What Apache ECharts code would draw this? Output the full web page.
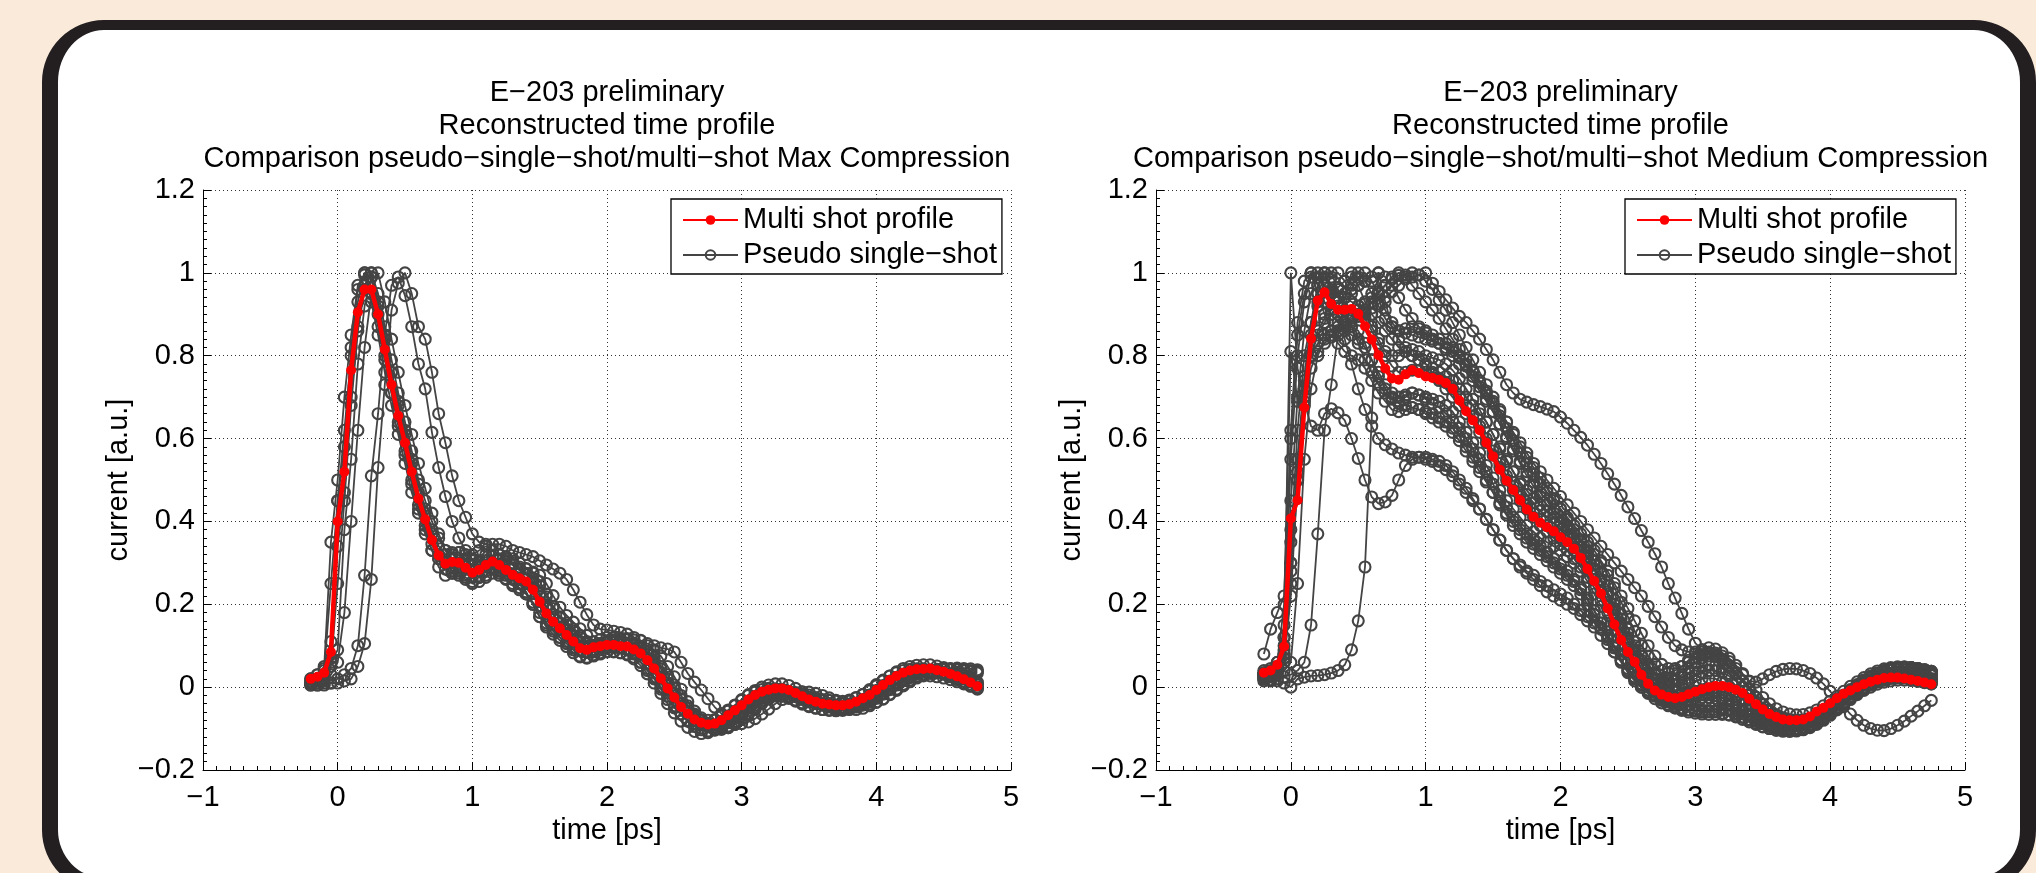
<!DOCTYPE html>
<html><head><meta charset="utf-8">
<script src="https://cdn.jsdelivr.net/npm/echarts/dist/echarts.min.js"></script>
<style>
html,body{margin:0;padding:0;background:#f9eada;width:2036px;height:873px;overflow:hidden;}
#panel{position:absolute;left:42px;top:20px;width:1994px;height:872px;box-sizing:border-box;background:#fff;border-style:solid;border-color:#231f20;border-width:10px 16px 14px 16px;border-radius:62px;}
#c{position:absolute;left:0;top:0;width:2036px;height:873px;}
</style>
</head><body><div id="panel"></div><div id="c"></div>
<script>
// ---------- DATA ----------
const time = [-0.20,-0.15,-0.10,-0.05,0.00,0.05,0.10,0.15,0.20,0.25,0.30,0.35,0.40,0.45,0.50,0.55,0.60,0.65,0.70,0.75,0.80,0.85,0.90,0.95,1.00,1.05,1.10,1.15,1.20,1.25,1.30,1.35,1.40,1.45,1.50,1.55,1.60,1.65,1.70,1.75,1.80,1.85,1.90,1.95,2.00,2.05,2.10,2.15,2.20,2.25,2.30,2.35,2.40,2.45,2.50,2.55,2.60,2.65,2.70,2.75,2.80,2.85,2.90,2.95,3.00,3.05,3.10,3.15,3.20,3.25,3.30,3.35,3.40,3.45,3.50,3.55,3.60,3.65,3.70,3.75,3.80,3.85,3.90,3.95,4.00,4.05,4.10,4.15,4.20,4.25,4.30,4.35,4.40,4.45,4.50,4.55,4.60,4.65,4.70,4.75];
const xTicks = [-1,0,1,2,3,4,5];
const yTicks = [-0.2,0,0.2,0.4,0.6,0.8,1,1.2];
const titlesMax = ['E\u2212203 preliminary','Reconstructed time profile','Comparison pseudo\u2212single\u2212shot/multi\u2212shot Max Compression'];
const titlesMed = ['E\u2212203 preliminary','Reconstructed time profile','Comparison pseudo\u2212single\u2212shot/multi\u2212shot Medium Compression'];
const nameMulti = 'Multi shot profile';
const nameSingle = 'Pseudo single\u2212shot';

// Max compression (left)
const multiMax = [0.020,0.025,0.035,0.085,0.400,0.520,0.765,0.905,0.960,0.960,
0.900,0.815,0.730,0.655,0.590,0.520,0.455,0.405,0.355,0.318,
0.298,0.302,0.300,0.288,0.276,0.283,0.295,0.303,0.295,0.283,
0.271,0.263,0.255,0.235,0.206,0.178,0.158,0.142,0.126,0.110,
0.094,0.090,0.096,0.099,0.102,0.102,0.099,0.098,0.091,0.081,
0.065,0.045,0.021,-0.003,-0.025,-0.048,-0.064,-0.078,-0.086,-0.090,
-0.088,-0.080,-0.068,-0.056,-0.044,-0.030,-0.019,-0.011,-0.006,-0.003,
-0.003,-0.007,-0.014,-0.022,-0.030,-0.035,-0.040,-0.042,-0.044,-0.044,
-0.041,-0.035,-0.027,-0.019,-0.007,0.005,0.017,0.027,0.035,0.040,
0.043,0.044,0.045,0.041,0.037,0.032,0.026,0.019,0.011,0.002];
const maxShot1 = [0.02,0.03,0.05,0.35,0.50,0.70,0.85,0.97,0.995,0.93,
0.85,0.76,0.68,0.61,0.54,0.47,0.42,0.37,0.33,0.31,
0.30,0.29,0.28,0.27,0.28,0.29,0.30,0.29,0.28,0.27,
0.26,0.25,0.23,0.20,0.17,0.15,0.14,0.12,0.11,0.095,
0.09,0.095,0.10,0.10,0.10,0.10,0.095,0.09,0.08,0.06,
0.04,0.02,-0.005,-0.03,-0.05,-0.065,-0.08,-0.088,-0.09,-0.087,
-0.08,-0.068,-0.055,-0.043,-0.03,-0.02,-0.012,-0.006,-0.003,-0.004,
-0.008,-0.015,-0.023,-0.03,-0.036,-0.04,-0.043,-0.044,-0.043,-0.04,
-0.034,-0.026,-0.018,-0.006,0.006,0.017,0.027,0.035,0.04,0.043,
0.044,0.044,0.04,0.036,0.031,0.025,0.018,0.01,0.002,-0.005];
const maxShot2 = [0.01,0.02,0.03,0.06,0.09,0.38,0.55,0.78,0.92,0.99,
0.93,0.85,0.76,0.68,0.61,0.54,0.47,0.42,0.37,0.32,
0.30,0.28,0.29,0.29,0.28,0.265,0.27,0.285,0.29,0.28,
0.27,0.26,0.25,0.24,0.22,0.19,0.165,0.145,0.13,0.115,
0.10,0.085,0.085,0.09,0.095,0.095,0.095,0.09,0.09,0.08,
0.07,0.055,0.035,0.01,-0.015,-0.04,-0.06,-0.075,-0.088,-0.095,
-0.098,-0.094,-0.085,-0.073,-0.06,-0.048,-0.035,-0.025,-0.017,-0.012,
-0.01,-0.012,-0.017,-0.024,-0.032,-0.038,-0.043,-0.046,-0.048,-0.048,
-0.046,-0.042,-0.035,-0.027,-0.016,-0.004,0.007,0.017,0.025,0.031,
0.035,0.037,0.038,0.037,0.034,0.03,0.026,0.02,0.013,0.005];
const maxShot3 = [0.01,0.015,0.02,0.05,0.25,0.45,0.68,0.86,0.96,1.0,
0.95,0.87,0.79,0.71,0.64,0.57,0.50,0.45,0.40,0.36,
0.33,0.32,0.325,0.32,0.31,0.30,0.305,0.315,0.32,0.31,
0.30,0.29,0.285,0.275,0.255,0.225,0.195,0.17,0.155,0.14,
0.125,0.11,0.10,0.105,0.11,0.11,0.11,0.105,0.10,0.095,
0.085,0.07,0.05,0.03,0.005,-0.02,-0.045,-0.065,-0.08,-0.092,
-0.1,-0.1,-0.094,-0.083,-0.07,-0.057,-0.044,-0.032,-0.022,-0.015,
-0.012,-0.012,-0.015,-0.021,-0.028,-0.035,-0.041,-0.046,-0.049,-0.051,
-0.048,-0.045,-0.04,-0.033,-0.025,-0.015,-0.004,0.007,0.017,0.026,
0.033,0.038,0.041,0.043,0.044,0.044,0.043,0.041,0.04,0.038];
const maxShot4 = [0.01,0.015,0.025,0.07,0.34,0.47,0.70,0.87,0.97,1.0,
0.90,0.80,0.71,0.63,0.56,0.49,0.43,0.38,0.33,0.29,
0.27,0.275,0.275,0.265,0.25,0.255,0.265,0.275,0.27,0.26,
0.245,0.235,0.225,0.205,0.18,0.155,0.135,0.12,0.105,0.09,
0.075,0.07,0.075,0.08,0.085,0.085,0.083,0.08,0.072,0.06,
0.045,0.025,0.0,-0.022,-0.045,-0.065,-0.082,-0.095,-0.103,-0.106,
-0.104,-0.097,-0.086,-0.073,-0.06,-0.046,-0.035,-0.027,-0.022,-0.02,
-0.021,-0.025,-0.031,-0.038,-0.045,-0.05,-0.054,-0.056,-0.057,-0.056,
-0.053,-0.047,-0.04,-0.031,-0.02,-0.009,0.002,0.011,0.018,0.023,
0.026,0.027,0.027,0.025,0.022,0.018,0.013,0.008,0.003,-0.002];
const maxShot5 = [0.02,0.03,0.045,0.11,0.45,0.58,0.82,0.96,1.0,0.99,
0.92,0.84,0.76,0.69,0.62,0.55,0.49,0.43,0.38,0.34,
0.32,0.325,0.325,0.31,0.295,0.305,0.32,0.33,0.32,0.305,
0.295,0.285,0.275,0.255,0.225,0.195,0.175,0.155,0.14,0.125,
0.11,0.105,0.11,0.115,0.12,0.12,0.115,0.115,0.105,0.095,
0.08,0.06,0.035,0.01,-0.015,-0.04,-0.057,-0.07,-0.078,-0.08,
-0.078,-0.07,-0.058,-0.045,-0.032,-0.018,-0.008,0.0,0.005,0.008,
0.008,0.004,-0.003,-0.011,-0.019,-0.025,-0.03,-0.032,-0.034,-0.034,
-0.031,-0.025,-0.017,-0.009,0.003,0.015,0.027,0.037,0.045,0.05,
0.053,0.054,0.054,0.051,0.047,0.042,0.036,0.029,0.021,0.012];
const maxShot6 = [0.005,0.005,0.01,0.01,0.02,0.03,0.045,0.10,0.27,0.51,
0.66,0.85,0.97,0.99,0.945,0.87,0.78,0.72,0.615,0.53,
0.46,0.40,0.36,0.33,0.32,0.33,0.34,0.33,0.32,0.315,
0.31,0.30,0.286,0.278,0.27,0.25,0.221,0.193,0.173,0.157,
0.141,0.125,0.109,0.105,0.111,0.114,0.117,0.117,0.114,0.113,
0.10,0.09,0.075,0.05,0.025,-0.005,-0.035,-0.058,-0.074,-0.088,
-0.096,-0.10,-0.098,-0.09,-0.078,-0.066,-0.054,-0.04,-0.029,-0.021,
-0.016,-0.013,-0.013,-0.017,-0.024,-0.032,-0.04,-0.045,-0.05,-0.052,
-0.054,-0.054,-0.051,-0.045,-0.037,-0.029,-0.017,-0.005,0.007,0.017,
0.025,0.03,0.033,0.034,0.035,0.031,0.027,0.022,0.016,0.009];
const maxShot7 = [0.005,0.005,0.005,0.01,0.01,0.015,0.02,0.05,0.105,0.26,
0.53,0.73,0.91,0.975,1.0,0.95,0.87,0.84,0.76,0.66,
0.59,0.51,0.45,0.41,0.37,0.35,0.345,0.345,0.345,0.34,
0.33,0.325,0.32,0.315,0.305,0.295,0.285,0.275,0.26,0.235,
0.205,0.175,0.15,0.14,0.138,0.135,0.132,0.128,0.12,0.112,
0.105,0.10,0.095,0.092,0.085,0.06,0.033,0.012,-0.007,-0.028,
-0.048,-0.064,-0.078,-0.086,-0.088,-0.084,-0.076,-0.065,-0.053,-0.04,
-0.03,-0.021,-0.015,-0.012,-0.012,-0.015,-0.02,-0.026,-0.032,-0.037,
-0.041,-0.043,-0.043,-0.041,-0.036,-0.028,-0.018,-0.008,0.003,0.013,
0.022,0.03,0.036,0.04,0.043,0.045,0.046,0.045,0.044,0.042];
const maxShot8 = [0.015,0.02,0.04,0.25,0.45,0.62,0.80,0.93,1.0,0.95,
0.87,0.79,0.71,0.64,0.57,0.50,0.44,0.39,0.345,0.31,
0.285,0.275,0.27,0.26,0.255,0.265,0.28,0.285,0.275,0.262,
0.25,0.24,0.225,0.20,0.17,0.145,0.128,0.113,0.098,0.083,
0.073,0.072,0.078,0.083,0.086,0.086,0.083,0.078,0.068,0.052,
0.032,0.01,-0.015,-0.04,-0.062,-0.082,-0.097,-0.107,-0.112,-0.11,
-0.103,-0.093,-0.08,-0.066,-0.052,-0.04,-0.03,-0.023,-0.019,-0.019,
-0.022,-0.027,-0.034,-0.041,-0.047,-0.051,-0.054,-0.055,-0.054,-0.051,
-0.046,-0.039,-0.03,-0.019,-0.008,0.004,0.015,0.024,0.031,0.036,
0.039,0.04,0.039,0.036,0.032,0.027,0.021,0.014,0.007,0.0];
const maxShot9 = [0.01,0.01,0.015,0.03,0.06,0.18,0.40,0.62,0.82,0.95,
1.0,0.93,0.84,0.76,0.68,0.61,0.54,0.48,0.42,0.37,
0.33,0.31,0.305,0.31,0.305,0.295,0.29,0.30,0.31,0.305,
0.295,0.282,0.272,0.262,0.245,0.218,0.19,0.168,0.15,0.135,
0.12,0.106,0.1,0.103,0.107,0.108,0.106,0.104,0.1,0.092,
0.08,0.064,0.044,0.02,-0.004,-0.028,-0.05,-0.068,-0.082,-0.093,
-0.1,-0.102,-0.098,-0.09,-0.078,-0.064,-0.05,-0.037,-0.026,-0.018,
-0.014,-0.014,-0.017,-0.023,-0.03,-0.037,-0.043,-0.048,-0.051,-0.052,
-0.051,-0.048,-0.043,-0.036,-0.027,-0.017,-0.006,0.005,0.015,0.024,
0.031,0.036,0.04,0.042,0.043,0.043,0.042,0.04,0.037,0.034];

// Medium compression (right)
const multiMed = [0.035,0.040,0.054,0.098,0.407,0.451,0.675,0.841,0.933,0.953,
0.925,0.911,0.911,0.913,0.901,0.871,0.839,0.801,0.769,0.745,
0.742,0.755,0.765,0.758,0.750,0.746,0.742,0.734,0.720,0.692,
0.666,0.644,0.620,0.590,0.557,0.525,0.498,0.476,0.451,0.429,
0.411,0.397,0.386,0.376,0.362,0.350,0.334,0.312,0.285,0.256,
0.226,0.190,0.151,0.114,0.085,0.061,0.030,0.008,-0.008,-0.018,
-0.024,-0.027,-0.024,-0.017,-0.011,-0.005,0.000,0.003,0.003,0.000,
-0.006,-0.014,-0.028,-0.041,-0.054,-0.065,-0.072,-0.078,-0.080,-0.080,
-0.078,-0.071,-0.059,-0.050,-0.039,-0.027,-0.016,-0.008,0.000,0.007,
0.013,0.018,0.022,0.023,0.023,0.021,0.018,0.015,0.011,0.007];
const medShot1 = [0.03,0.03,0.04,0.12,1.00,0.77,0.69,0.63,0.62,0.66,
0.672,0.662,0.644,0.60,0.552,0.50,0.459,0.443,0.447,0.463,
0.50,0.535,0.55,0.555,0.55,0.545,0.535,0.525,0.51,0.49,
0.47,0.45,0.43,0.405,0.38,0.355,0.33,0.31,0.295,0.28,
0.27,0.255,0.245,0.235,0.225,0.215,0.20,0.185,0.17,0.155,
0.14,0.12,0.10,0.08,0.06,0.04,0.02,0.005,-0.01,-0.025,
-0.035,-0.045,-0.05,-0.055,-0.058,-0.06,-0.06,-0.058,-0.055,-0.055,
-0.056,-0.06,-0.066,-0.073,-0.08,-0.087,-0.093,-0.097,-0.1,-0.1,
-0.098,-0.093,-0.085,-0.075,-0.063,-0.05,-0.037,-0.024,-0.012,-0.002,
0.007,0.014,0.019,0.022,0.023,0.022,0.02,0.016,0.012,0.008];
const medShot2 = [0.02,0.025,0.03,0.04,0.06,0.25,0.55,0.72,0.80,0.84,
0.85,0.86,0.87,0.89,0.90,0.91,0.93,0.95,0.97,0.985,
0.994,0.995,0.99,0.995,1.0,0.975,0.955,0.935,0.915,0.895,
0.88,0.86,0.84,0.815,0.79,0.76,0.73,0.71,0.695,0.688,
0.682,0.677,0.671,0.665,0.652,0.637,0.62,0.603,0.584,0.562,
0.54,0.515,0.49,0.463,0.435,0.407,0.378,0.35,0.322,0.29,
0.25,0.215,0.178,0.14,0.106,0.09,0.085,0.082,0.075,0.062,
0.045,0.03,0.015,0.012,0.02,0.03,0.038,0.043,0.045,0.044,
0.04,0.033,0.022,0.008,-0.01,-0.028,-0.047,-0.065,-0.08,-0.092,
-0.1,-0.104,-0.105,-0.1,-0.092,-0.082,-0.07,-0.058,-0.045,-0.032];
const medShot3 = [0.02,0.018,0.015,0.01,0.0,0.02,0.024,0.027,0.028,0.03,
0.034,0.04,0.054,0.09,0.16,0.29,0.65,1.0,0.93,0.87,
0.84,0.82,0.80,0.79,0.78,0.77,0.76,0.75,0.74,0.72,
0.70,0.68,0.66,0.64,0.61,0.58,0.55,0.52,0.49,0.465,
0.445,0.425,0.41,0.395,0.38,0.365,0.35,0.33,0.31,0.285,
0.26,0.23,0.20,0.165,0.13,0.10,0.075,0.05,0.03,0.015,
0.0,-0.01,-0.017,-0.02,-0.02,-0.018,-0.015,-0.013,-0.013,-0.016,
-0.022,-0.03,-0.04,-0.05,-0.06,-0.068,-0.075,-0.08,-0.083,-0.084,
-0.082,-0.077,-0.07,-0.06,-0.048,-0.035,-0.022,-0.01,0.0,0.009,
0.017,0.023,0.027,0.03,0.031,0.03,0.028,0.025,0.021,0.017];
const medShot4 = [0.015,0.015,0.02,0.025,0.03,0.04,0.06,0.15,0.37,0.62,
0.73,0.85,0.94,1.0,0.97,0.93,0.90,0.88,0.86,0.84,
0.82,0.81,0.80,0.79,0.78,0.76,0.74,0.72,0.70,0.68,
0.66,0.64,0.615,0.59,0.56,0.53,0.50,0.475,0.45,0.43,
0.41,0.39,0.375,0.36,0.345,0.33,0.31,0.29,0.265,0.24,
0.21,0.18,0.15,0.12,0.09,0.065,0.045,0.03,0.02,0.015,
0.015,0.02,0.03,0.045,0.06,0.07,0.075,0.073,0.065,0.052,
0.035,0.015,-0.005,-0.025,-0.042,-0.057,-0.068,-0.075,-0.08,-0.082,
-0.082,-0.079,-0.073,-0.064,-0.053,-0.04,-0.027,-0.013,0.0,0.012,
0.023,0.032,0.039,0.044,0.047,0.048,0.047,0.045,0.042,0.038];
const medShot5 = [0.04,0.045,0.06,0.12,0.55,0.80,0.93,0.99,1.0,0.97,
0.95,0.94,0.94,0.93,0.92,0.90,0.87,0.84,0.81,0.80,
0.80,0.81,0.815,0.81,0.80,0.795,0.79,0.78,0.765,0.745,
0.72,0.695,0.67,0.64,0.61,0.575,0.545,0.52,0.495,0.475,
0.455,0.44,0.425,0.41,0.395,0.38,0.36,0.34,0.315,0.285,
0.255,0.22,0.18,0.145,0.11,0.08,0.055,0.035,0.02,0.01,
0.005,0.005,0.01,0.018,0.027,0.035,0.04,0.04,0.035,0.027,
0.015,0.0,-0.017,-0.035,-0.052,-0.066,-0.077,-0.085,-0.09,-0.092,
-0.09,-0.085,-0.077,-0.066,-0.053,-0.038,-0.023,-0.009,0.004,0.016,
0.026,0.034,0.04,0.044,0.046,0.046,0.044,0.041,0.037,0.032];
const medShot6 = [0.03,0.035,0.05,0.15,0.62,0.88,0.98,1.0,0.95,0.90,
0.86,0.83,0.81,0.80,0.79,0.77,0.74,0.71,0.69,0.67,
0.665,0.67,0.675,0.67,0.66,0.65,0.64,0.63,0.615,0.595,
0.57,0.545,0.52,0.495,0.47,0.445,0.42,0.40,0.38,0.36,
0.345,0.33,0.315,0.30,0.285,0.27,0.255,0.235,0.21,0.185,
0.155,0.125,0.095,0.065,0.04,0.02,0.0,-0.015,-0.028,-0.038,
-0.045,-0.05,-0.053,-0.055,-0.056,-0.057,-0.058,-0.06,-0.063,-0.067,
-0.072,-0.078,-0.084,-0.09,-0.096,-0.1,-0.104,-0.106,-0.107,-0.106,
-0.103,-0.098,-0.09,-0.08,-0.068,-0.055,-0.042,-0.03,-0.018,-0.008,
0.0,0.007,0.012,0.015,0.017,0.017,0.016,0.014,0.011,0.008];
const medShot7 = [0.03,0.035,0.045,0.08,0.35,0.62,0.80,0.88,0.92,0.94,
0.955,0.965,0.98,0.99,1.0,0.98,0.95,0.92,0.89,0.87,
0.86,0.865,0.87,0.865,0.855,0.84,0.83,0.815,0.80,0.78,
0.76,0.74,0.715,0.69,0.665,0.635,0.605,0.575,0.545,0.52,
0.495,0.47,0.45,0.43,0.41,0.39,0.37,0.355,0.34,0.32,
0.30,0.27,0.24,0.205,0.17,0.135,0.10,0.075,0.055,0.04,
0.035,0.04,0.05,0.065,0.08,0.09,0.095,0.092,0.083,0.07,
0.053,0.033,0.013,-0.007,-0.025,-0.04,-0.052,-0.06,-0.065,-0.067,
-0.066,-0.062,-0.055,-0.045,-0.034,-0.022,-0.01,0.002,0.013,0.023,
0.032,0.039,0.044,0.047,0.049,0.049,0.047,0.044,0.04,0.035];
const medShot8 = [0.025,0.03,0.04,0.07,0.30,0.55,0.72,0.80,0.83,0.85,
0.86,0.87,0.88,0.895,0.91,0.925,0.94,0.955,0.97,0.99,
1.0,0.99,0.97,0.95,0.93,0.91,0.89,0.865,0.84,0.815,
0.79,0.765,0.74,0.715,0.69,0.665,0.64,0.615,0.59,0.565,
0.54,0.52,0.50,0.48,0.46,0.44,0.42,0.40,0.38,0.36,
0.34,0.32,0.30,0.28,0.26,0.24,0.22,0.195,0.17,0.145,
0.12,0.10,0.09,0.085,0.085,0.085,0.082,0.076,0.066,0.052,
0.035,0.015,-0.005,-0.025,-0.042,-0.057,-0.068,-0.075,-0.08,-0.082,
-0.082,-0.079,-0.073,-0.064,-0.053,-0.04,-0.027,-0.013,0.0,0.012,
0.023,0.032,0.039,0.044,0.047,0.048,0.047,0.045,0.042,0.038];
const medShot9 = [0.035,0.04,0.05,0.09,0.45,0.70,0.86,0.95,0.99,1.0,
0.96,0.90,0.84,0.78,0.72,0.67,0.63,0.60,0.585,0.575,
0.565,0.56,0.555,0.555,0.555,0.55,0.545,0.535,0.52,0.50,
0.48,0.455,0.43,0.405,0.38,0.355,0.33,0.31,0.29,0.275,
0.26,0.245,0.23,0.22,0.21,0.20,0.19,0.175,0.16,0.145,
0.125,0.105,0.085,0.065,0.045,0.025,0.008,-0.007,-0.02,-0.032,
-0.042,-0.05,-0.056,-0.06,-0.063,-0.065,-0.066,-0.066,-0.066,-0.067,
-0.069,-0.073,-0.078,-0.083,-0.088,-0.093,-0.097,-0.1,-0.102,-0.102,
-0.1,-0.095,-0.087,-0.077,-0.065,-0.052,-0.039,-0.026,-0.014,-0.004,
0.005,0.012,0.017,0.021,0.023,0.024,0.023,0.021,0.018,0.014];
const medShot10 = [0.03,0.035,0.04,0.06,0.22,0.50,0.72,0.85,0.93,0.97,
0.99,1.0,0.98,0.95,0.92,0.89,0.86,0.83,0.80,0.775,
0.76,0.76,0.765,0.765,0.76,0.755,0.745,0.735,0.72,0.70,
0.68,0.655,0.63,0.60,0.57,0.54,0.51,0.485,0.46,0.44,
0.42,0.405,0.39,0.375,0.36,0.345,0.33,0.31,0.285,0.26,
0.23,0.195,0.16,0.125,0.095,0.07,0.045,0.025,0.01,0.0,
-0.008,-0.012,-0.013,-0.012,-0.01,-0.008,-0.007,-0.008,-0.012,-0.02,
-0.03,-0.042,-0.055,-0.067,-0.078,-0.087,-0.094,-0.098,-0.1,-0.1,
-0.097,-0.091,-0.082,-0.071,-0.058,-0.044,-0.03,-0.017,-0.005,0.006,
0.015,0.022,0.027,0.03,0.032,0.032,0.031,0.028,0.025,0.021];
const medShot11 = [0.08,0.14,0.18,0.22,0.60,0.85,0.95,1.0,0.97,0.93,
0.90,0.88,0.86,0.85,0.84,0.82,0.79,0.76,0.73,0.71,
0.70,0.705,0.71,0.705,0.695,0.685,0.675,0.66,0.645,0.625,
0.60,0.575,0.55,0.52,0.49,0.46,0.435,0.41,0.39,0.37,
0.355,0.34,0.325,0.31,0.295,0.28,0.26,0.24,0.215,0.185,
0.155,0.125,0.095,0.065,0.04,0.02,0.005,-0.008,-0.018,-0.025,
-0.03,-0.032,-0.032,-0.03,-0.027,-0.025,-0.025,-0.027,-0.032,-0.04,
-0.05,-0.06,-0.07,-0.08,-0.088,-0.095,-0.1,-0.103,-0.104,-0.103,
-0.1,-0.094,-0.086,-0.076,-0.064,-0.051,-0.038,-0.025,-0.013,-0.002,
0.008,0.016,0.022,0.026,0.028,0.029,0.028,0.026,0.022,0.018];
const medShot12 = [0.03,0.035,0.06,0.20,0.81,0.69,0.74,0.80,0.85,0.88,
0.90,0.92,0.94,0.96,0.97,0.98,0.99,1.0,0.99,0.97,
0.94,0.91,0.89,0.87,0.86,0.85,0.84,0.83,0.82,0.80,
0.78,0.76,0.735,0.71,0.685,0.655,0.625,0.595,0.565,0.54,
0.515,0.49,0.47,0.45,0.43,0.405,0.38,0.355,0.325,0.295,
0.26,0.225,0.19,0.155,0.12,0.09,0.065,0.045,0.03,0.02,
0.015,0.018,0.025,0.035,0.045,0.052,0.055,0.052,0.045,0.033,
0.018,0.0,-0.02,-0.04,-0.058,-0.073,-0.085,-0.093,-0.098,-0.1,
-0.099,-0.095,-0.088,-0.078,-0.066,-0.052,-0.037,-0.022,-0.008,0.005,
0.017,0.027,0.035,0.041,0.045,0.047,0.047,0.045,0.042,0.038];
const medShot13 = [0.03,0.035,0.05,0.10,0.38,0.50,0.72,0.88,0.97,1.0,
0.95,0.90,0.88,0.87,0.86,0.83,0.79,0.75,0.72,0.70,
0.69,0.70,0.71,0.705,0.70,0.695,0.69,0.68,0.665,0.64,
0.615,0.59,0.565,0.535,0.505,0.475,0.45,0.43,0.41,0.39,
0.375,0.36,0.35,0.34,0.33,0.315,0.30,0.28,0.255,0.225,
0.195,0.16,0.125,0.09,0.06,0.035,0.015,0.0,-0.012,-0.02,
-0.025,-0.027,-0.026,-0.023,-0.02,-0.018,-0.018,-0.02,-0.025,-0.033,
-0.043,-0.054,-0.065,-0.075,-0.084,-0.091,-0.096,-0.099,-0.1,-0.099,
-0.096,-0.09,-0.081,-0.07,-0.057,-0.043,-0.029,-0.016,-0.004,0.007,
0.016,0.023,0.028,0.031,0.032,0.031,0.029,0.026,0.022,0.017];
const medShot14 = [0.025,0.03,0.04,0.07,0.28,0.52,0.70,0.80,0.86,0.89,
0.91,0.93,0.95,0.97,0.99,1.0,0.98,0.95,0.91,0.88,
0.86,0.855,0.85,0.845,0.84,0.835,0.83,0.82,0.81,0.795,
0.775,0.75,0.725,0.695,0.665,0.635,0.60,0.57,0.54,0.51,
0.485,0.46,0.44,0.42,0.40,0.385,0.37,0.35,0.33,0.305,
0.275,0.245,0.21,0.175,0.14,0.11,0.08,0.055,0.035,0.02,
0.01,0.005,0.005,0.01,0.015,0.02,0.022,0.02,0.013,0.002,
-0.012,-0.028,-0.044,-0.058,-0.07,-0.079,-0.085,-0.088,-0.089,-0.087,
-0.083,-0.077,-0.068,-0.057,-0.045,-0.032,-0.019,-0.006,0.006,0.017,
0.026,0.033,0.038,0.041,0.042,0.042,0.04,0.037,0.033,0.028];
const medShot15 = [0.03,0.035,0.045,0.08,0.30,0.55,0.75,0.88,0.95,0.99,
1.0,0.96,0.91,0.87,0.83,0.79,0.76,0.73,0.71,0.695,
0.685,0.68,0.675,0.67,0.665,0.66,0.65,0.64,0.625,0.605,
0.58,0.555,0.53,0.50,0.47,0.44,0.415,0.39,0.37,0.35,
0.335,0.32,0.305,0.29,0.275,0.26,0.245,0.225,0.20,0.175,
0.145,0.115,0.085,0.06,0.035,0.015,0.0,-0.012,-0.022,-0.03,
-0.036,-0.04,-0.042,-0.043,-0.043,-0.043,-0.044,-0.046,-0.05,-0.056,
-0.064,-0.072,-0.08,-0.088,-0.095,-0.1,-0.104,-0.106,-0.106,-0.104,
-0.1,-0.094,-0.085,-0.074,-0.062,-0.049,-0.036,-0.023,-0.011,0.0,
0.009,0.016,0.021,0.024,0.025,0.025,0.023,0.02,0.016,0.012];
const medShot16 = [0.02,0.025,0.035,0.06,0.25,0.50,0.68,0.77,0.81,0.83,
0.845,0.86,0.875,0.885,0.895,0.905,0.915,0.925,0.94,0.955,
0.97,0.985,1.0,0.995,0.98,0.96,0.935,0.91,0.88,0.85,
0.82,0.79,0.76,0.73,0.70,0.67,0.64,0.61,0.58,0.555,
0.53,0.505,0.48,0.455,0.43,0.41,0.39,0.37,0.35,0.33,
0.305,0.28,0.25,0.22,0.19,0.16,0.13,0.10,0.075,0.055,
0.045,0.045,0.05,0.06,0.07,0.078,0.08,0.076,0.066,0.052,
0.035,0.016,-0.004,-0.024,-0.042,-0.058,-0.07,-0.078,-0.082,-0.083,
-0.081,-0.076,-0.068,-0.058,-0.046,-0.033,-0.02,-0.007,0.005,0.016,
0.025,0.032,0.037,0.04,0.041,0.041,0.04,0.037,0.033,0.029];

const maxShots = [maxShot1,maxShot2,maxShot3,maxShot4,maxShot5,maxShot6,maxShot7,maxShot8,maxShot9];
const medShots = [medShot1,medShot2,medShot3,medShot4,medShot5,medShot6,medShot7,medShot8,medShot9,medShot10,medShot11,medShot12,medShot13,medShot14,medShot15,medShot16];

// ---------- CHART ----------
const FONT = '"Liberation Sans", Arial, Helvetica, sans-serif';
const FS = 29;
const GRAY = '#444444';
const chart = echarts.init(document.getElementById('c'), null, {renderer:'canvas'});
const pair = arr => time.map((t,i)=>[t, arr[i]]);
const minus = v => (v < 0 ? '\u2212' : '') + Math.abs(v);

function xAx(g){
  return {type:'value', gridIndex:g, min:xTicks[0], max:xTicks[xTicks.length-1], interval:xTicks[1]-xTicks[0],
    axisLine:{show:true, onZero:false, lineStyle:{color:'#000', width:1}},
    axisTick:{show:true, inside:true, length:8, lineStyle:{color:'#000', width:1}},
    minorTick:{show:true, splitNumber:10, length:4, lineStyle:{color:'#000', width:1}},
    splitLine:{show:true, lineStyle:{color:'#333', width:1, type:[1,3]}},
    axisLabel:{color:'#000', fontSize:FS, fontFamily:FONT, margin:13, formatter:minus},
    name:'time [ps]', nameLocation:'middle', nameGap:41,
    nameTextStyle:{color:'#000', fontSize:FS, fontFamily:FONT}};
}
function yAx(g){
  return {type:'value', gridIndex:g, min:yTicks[0], max:yTicks[yTicks.length-1], interval:0.2,
    axisLine:{show:true, onZero:false, lineStyle:{color:'#000', width:1}},
    axisTick:{show:true, inside:true, length:8, lineStyle:{color:'#000', width:1}},
    minorTick:{show:true, splitNumber:10, length:4, lineStyle:{color:'#000', width:1}},
    splitLine:{show:true, lineStyle:{color:'#333', width:1, type:[1,3]}},
    axisLabel:{color:'#000', fontSize:FS, fontFamily:FONT, margin:8, formatter:minus},
    name:'current [a.u.]', nameLocation:'middle', nameGap:70,
    nameTextStyle:{color:'#000', fontSize:FS, fontFamily:FONT}};
}
function graySeries(arr, g){
  return {type:'line', name:nameSingle, xAxisIndex:g, yAxisIndex:g, data:pair(arr),
    symbol:'circle', symbolSize:11, showSymbol:true, z:2, silent:true,
    lineStyle:{color:GRAY, width:1.8},
    itemStyle:{color:'rgba(255,255,255,0)', borderColor:GRAY, borderWidth:2.1},
    emphasis:{disabled:true}};
}
function redSeries(arr, g){
  return {type:'line', name:nameMulti, xAxisIndex:g, yAxisIndex:g, data:pair(arr),
    symbol:'circle', symbolSize:10, showSymbol:true, z:5, silent:true,
    lineStyle:{color:'#ff0000', width:4.5},
    itemStyle:{color:'#ff0000'}, emphasis:{disabled:true}};
}
function legendAt(left){
  return {show:true, left:left, top:199, orient:'vertical',
    data:[nameMulti, nameSingle],
    backgroundColor:'#fff', borderColor:'#000', borderWidth:1.3,
    padding:[6,5,4,11], itemWidth:55, itemHeight:12, itemGap:5,
    textStyle:{color:'#000', fontSize:FS, fontFamily:FONT, lineHeight:30},
    selectedMode:false};
}
function titleTexts(lines, cx){
  const ys = [92.5, 126, 159];
  return lines.map((t,i)=>({type:'text', x:cx, y:ys[i], silent:true,
    style:{text:t, fill:'#000', font:FS + 'px ' + FONT, textAlign:'center', textVerticalAlign:'middle', align:'center', verticalAlign:'middle'}}));
}

const series = [];
maxShots.forEach(a=>series.push(graySeries(a,0)));
medShots.forEach(a=>series.push(graySeries(a,1)));
series.push(redSeries(multiMax,0));
series.push(redSeries(multiMed,1));

chart.setOption({
  animation:false,
  backgroundColor:'transparent',
  grid:[{left:203, top:190, width:808, height:580, containLabel:false},
        {left:1156, top:190, width:809, height:580, containLabel:false}],
  xAxis:[xAx(0), xAx(1)],
  yAxis:[yAx(0), yAx(1)],
  legend:[legendAt(671), legendAt(1625)],
  graphic:[...titleTexts(titlesMax, 607), ...titleTexts(titlesMed, 1560.5)],
  series:series
});
</script>
</body></html>
